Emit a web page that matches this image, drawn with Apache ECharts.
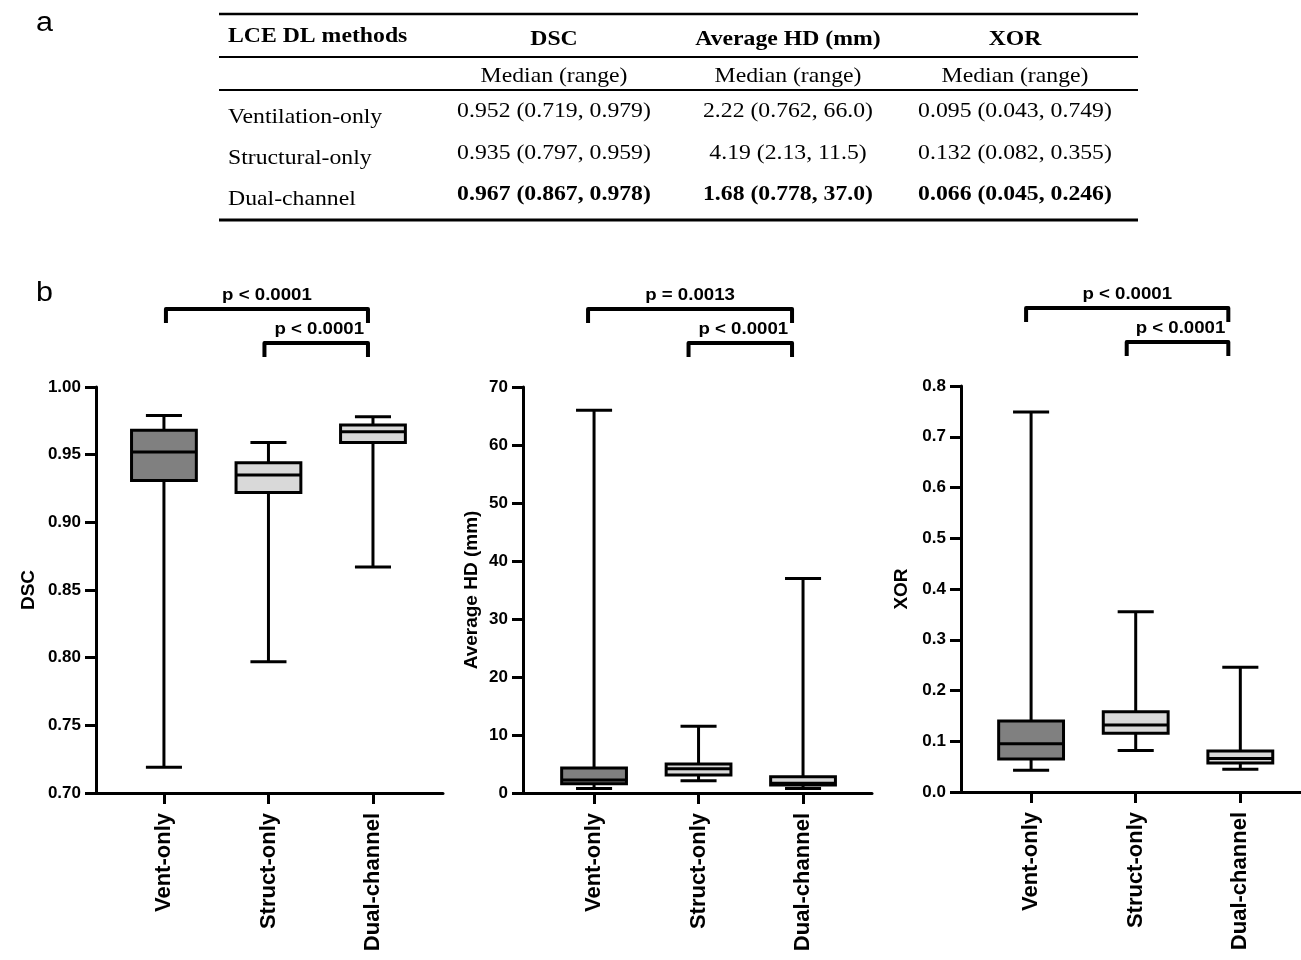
<!DOCTYPE html>
<html><head><meta charset="utf-8">
<script src="https://cdn.jsdelivr.net/npm/echarts@6/dist/echarts.min.js"></script>
<style>html,body{margin:0;padding:0;background:#fff}#c{width:1301px;height:960px}</style>
</head><body><div id="c"></div>
<script>
// ---------- data ----------
const categories = ['Vent-only', 'Struct-only', 'Dual-channel'];
// each box: [min, Q1, median, Q3, max]
const dscBoxes = [[0.719, 0.931, 0.952, 0.968, 0.979], [0.797, 0.922, 0.935, 0.944, 0.959], [0.867, 0.959, 0.967, 0.972, 0.978]];
const hdBoxes  = [[0.762, 1.6, 2.22, 4.3, 66.0], [2.13, 3.1, 4.19, 5.0, 11.5], [0.778, 1.4, 1.68, 2.8, 37.0]];
const xorBoxes = [[0.043, 0.065, 0.095, 0.140, 0.749], [0.082, 0.116, 0.132, 0.158, 0.355], [0.045, 0.057, 0.066, 0.081, 0.246]];
const boxFills = ['#808080', '#d9d9d9', '#d9d9d9'];
const axisNames = ['DSC', 'Average HD (mm)', 'XOR'];
const yMins = [0.70, 0, 0];
const yMaxs = [1.00, 70, 0.8];
const yIntervals = [0.05, 10, 0.1];
const yDecimals = [2, 0, 1];
// significance brackets: [from category, to category, label]
const brackets = [
  [[0, 2, 'p < 0.0001'], [1, 2, 'p < 0.0001']],
  [[0, 2, 'p = 0.0013'], [1, 2, 'p < 0.0001']],
  [[0, 2, 'p < 0.0001'], [1, 2, 'p < 0.0001']]
];
// table (part a)
const tableHeaders = ['LCE DL methods', 'DSC', 'Average HD (mm)', 'XOR'];
const tableSubHeader = 'Median (range)';
const tableMethods = ['Ventilation-only', 'Structural-only', 'Dual-channel'];
const tableDSC = ['0.952 (0.719, 0.979)', '0.935 (0.797, 0.959)', '0.967 (0.867, 0.978)'];
const tableHD  = ['2.22 (0.762, 66.0)', '4.19 (2.13, 11.5)', '1.68 (0.778, 37.0)'];
const tableXOR = ['0.095 (0.043, 0.749)', '0.132 (0.082, 0.355)', '0.066 (0.045, 0.246)'];
const tableBoldRow = 2;

// ---------- layout ----------
const panelData = [dscBoxes, hdBoxes, xorBoxes];
const grids = [
  {left: 96, top: 387, width: 347, height: 406},
  {left: 523, top: 387, width: 349, height: 406},
  {left: 961, top: 386, width: 340, height: 406}
];
const xMins = [-0.65, -0.68, -0.67];
const xMaxs = [2.67, 2.66, 2.58];
const nameGaps = [58, 42, 50];
// pixel nudges of bracket ends: [top-left, top-right, low-left, low-right]
const bracketShift = [[2, -5, -4, -5], [-6, -11, -10, -11], [-5, -12, -9, -12]];
const SANS = 'Liberation Sans, Arial, Helvetica, sans-serif';
const SERIF = 'Liberation Serif, Times New Roman, serif';
const SX = 1.13;
const BOX_W = 0.62, CAP_W = 0.345;

function renderBox(params, api) {
  const x = api.value(0);
  const pLo = api.coord([x, api.value(1)]);
  const pQ1 = api.coord([x, api.value(2)]);
  const pMed = api.coord([x, api.value(3)]);
  const pQ3 = api.coord([x, api.value(4)]);
  const pHi = api.coord([x, api.value(5)]);
  const bw = api.size([BOX_W, 0])[0];
  const cw = api.size([CAP_W, 0])[0];
  const cx = pMed[0];
  const ls = {stroke: '#000', lineWidth: 3, fill: null};
  return {
    type: 'group',
    children: [
      {type: 'line', shape: {x1: cx, y1: pHi[1], x2: cx, y2: pQ3[1]}, style: ls},
      {type: 'line', shape: {x1: cx, y1: pLo[1], x2: cx, y2: pQ1[1]}, style: ls},
      {type: 'line', shape: {x1: cx - cw / 2, y1: pHi[1], x2: cx + cw / 2, y2: pHi[1]}, style: ls},
      {type: 'line', shape: {x1: cx - cw / 2, y1: pLo[1], x2: cx + cw / 2, y2: pLo[1]}, style: ls},
      {type: 'rect', shape: {x: cx - bw / 2, y: pQ3[1], width: bw, height: pQ1[1] - pQ3[1]},
        style: {fill: boxFills[params.dataIndex], stroke: '#000', lineWidth: 3}},
      {type: 'line', shape: {x1: cx - bw / 2, y1: pMed[1], x2: cx + bw / 2, y2: pMed[1]}, style: ls}
    ]
  };
}

const option = {
  animation: false,
  backgroundColor: '#fff',
  grid: grids,
  xAxis: grids.map((g, i) => ({
    type: 'value', gridIndex: i, min: xMins[i], max: xMaxs[i],
    splitLine: {show: false},
    axisLine: {show: true, onZero: false, lineStyle: {color: '#000', width: 3}},
    axisTick: {show: true, length: 11, customValues: [0, 1, 2], lineStyle: {color: '#000', width: 3}},
    axisLabel: {
      show: true, customValues: [0, 1, 2], rotate: 90, margin: 20,
      formatter: v => categories[Math.round(v)] || '',
      color: '#000', fontSize: 22, fontWeight: 'bold', fontFamily: SANS
    }
  })),
  yAxis: grids.map((g, i) => ({
    type: 'value', gridIndex: i, min: yMins[i], max: yMaxs[i], interval: yIntervals[i],
    name: axisNames[i], nameLocation: 'middle', nameGap: nameGaps[i],
    nameTextStyle: {color: '#000', fontSize: 19, fontWeight: 'bold', fontFamily: SANS},
    splitLine: {show: false},
    axisLine: {show: true, onZero: false, lineStyle: {color: '#000', width: 3}},
    axisTick: {show: true, length: 11, lineStyle: {color: '#000', width: 3}},
    axisLabel: {
      margin: 15, color: '#000', fontSize: 17, fontWeight: 'bold', fontFamily: SANS,
      formatter: v => Number(v).toFixed(yDecimals[i])
    }
  })),
  series: panelData.map((boxes, i) => ({
    type: 'custom', xAxisIndex: i, yAxisIndex: i, clip: false,
    renderItem: renderBox,
    encode: {x: 0, y: [1, 2, 3, 4, 5]},
    data: boxes.map((b, k) => [k].concat(b))
  }))
};

const chart = echarts.init(document.getElementById('c'), null, {renderer: 'canvas'});
chart.setOption(option);

// ---------- annotations (table, panel letters, brackets) ----------
const gfx = [];
function txt(x, y, s, o) {
  gfx.push({
    type: 'text', x: x, y: y, scaleX: SX, silent: true,
    style: Object.assign({text: s, fill: '#000', align: 'center', verticalAlign: 'middle'}, o)
  });
}
function rule(y, w) {
  gfx.push({type: 'line', silent: true, shape: {x1: 219, y1: y, x2: 1138, y2: y}, style: {stroke: '#000', lineWidth: w}});
}
txt(36, 24, 'a', {align: 'left', font: '27px ' + SANS});
txt(36, 294, 'b', {align: 'left', font: '27px ' + SANS});

const colX = [228, 554, 788, 1015];
rule(14, 2.5); rule(57, 2); rule(90, 2); rule(220, 3);
txt(colX[0], 37, tableHeaders[0], {align: 'left', font: 'bold 21px ' + SERIF});
for (let c = 1; c < 4; c++) {
  txt(colX[c], 40, tableHeaders[c], {font: 'bold 21px ' + SERIF});
  txt(colX[c], 76, tableSubHeader, {font: '21px ' + SERIF});
}
const nameYs = [117, 158, 199], valYs = [111, 153, 195];
const cols = [tableDSC, tableHD, tableXOR];
for (let r = 0; r < tableMethods.length; r++) {
  txt(colX[0], nameYs[r], tableMethods[r], {align: 'left', font: '21px ' + SERIF});
  const f = (r === tableBoldRow ? 'bold ' : '') + '21px ' + SERIF;
  for (let c = 0; c < 3; c++) txt(colX[c + 1], valYs[r], cols[c][r], {font: f});
}

brackets.forEach((list, p) => {
  const top = grids[p].top;
  const sh = bracketShift[p];
  list.forEach((b, level) => {
    const x1 = chart.convertToPixel({xAxisIndex: p}, b[0]) + sh[level * 2];
    const x2 = chart.convertToPixel({xAxisIndex: p}, b[1]) + sh[level * 2 + 1];
    const barY = level === 0 ? top - 78 : top - 44;
    const legY = barY + 14;
    gfx.push({type: 'polyline', silent: true,
      shape: {points: [[x1, legY], [x1, barY], [x2, barY], [x2, legY]]},
      style: {stroke: '#000', lineWidth: 4, fill: null, lineJoin: 'round'}});
    txt((x1 + x2) / 2 + (level === 0 ? 0 : 3), barY - 14, b[2], {font: 'bold 16.5px ' + SANS});
  });
});
chart.setOption({graphic: {elements: gfx}});
</script></body></html>
